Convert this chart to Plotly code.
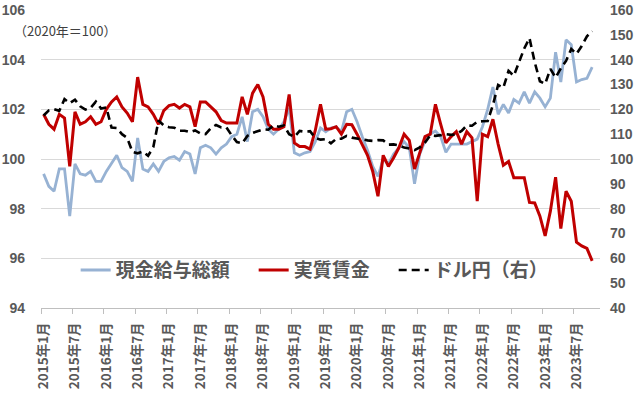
import plotly.graph_objects as go

# ---- data ----
years = list(range(2015, 2024))
months = [f"{y}年{m}月" for y in years for m in range(1, 13)][:106]

nominal_wage = [
    99.4, 98.9, 98.7, 99.6, 99.6, 97.7, 99.8, 99.4, 99.35, 99.5, 99.1, 99.1,
    99.5, 99.8, 100.15, 99.65, 99.5, 99.1, 100.85, 99.6, 99.5, 99.8, 99.5, 99.9,
    100.05, 100.1, 99.95, 100.3, 100.2, 99.4, 100.45, 100.55, 100.45, 100.2, 100.45, 100.6,
    100.9, 101.0, 101.7, 100.7, 101.9, 102.0, 101.7, 101.2, 101.0, 101.2, 101.5, 102.05,
    100.25, 100.15, 100.25, 100.3, 100.7, 101.25, 101.1, 101.25, 101.3, 101.1, 101.9, 102.0,
    101.5, 100.9, 100.35, 99.7, 99.3, 100.0, 99.8, 100.2, 100.45, 100.7, 100.45, 99.0,
    100.2, 100.73, 101.0, 101.13, 100.9, 100.27, 100.6, 100.6, 100.6, 100.6, 100.7, 100.8,
    101.3, 102.0, 102.9, 101.8, 102.2, 101.85, 102.4, 102.25, 102.7, 102.25, 102.7, 102.45,
    102.1, 102.45, 104.3, 103.1, 104.8, 104.6, 103.1, 103.2, 103.25, 103.7,
]

real_wage = [
    101.8, 101.4, 101.2, 101.8, 101.65, 99.7, 101.9, 101.4, 101.5, 101.7, 101.4, 101.5,
    102.0, 102.3, 102.5, 102.1, 101.85, 101.5, 103.3, 102.2, 102.1, 101.8, 101.4, 101.95,
    102.15, 102.2, 102.05, 102.2, 102.1, 101.3, 102.3, 102.3, 102.1, 101.9, 101.55, 101.45,
    101.45, 101.45, 102.5, 101.8, 102.65, 103.0, 102.5, 101.4, 101.2, 101.2, 101.3, 102.6,
    100.65, 100.5, 100.5, 100.4, 101.15, 102.2, 101.2, 101.22, 101.3, 101.0, 101.4, 101.38,
    101.0, 100.6, 100.15, 99.5, 98.5, 100.15, 99.7, 100.05, 100.45, 101.0, 100.75, 99.6,
    100.3, 100.9, 101.0, 102.2, 101.4, 100.65, 100.9, 101.1, 100.6, 101.1, 100.85, 98.3,
    101.0, 100.9, 101.6, 100.6, 99.75, 99.9, 99.25, 99.25, 99.25, 98.25, 98.23, 97.7,
    96.9, 97.9, 99.27, 97.2, 98.7, 98.3, 96.65, 96.5, 96.4, 95.9,
]

usd_jpy = [
    117.5, 119.6, 120.1, 119.4, 124.1, 122.5, 123.9, 121.2, 119.9, 120.6, 123.1, 120.3,
    120.8, 112.7, 112.5, 110.0, 108.5, 102.9, 102.3, 103.0, 101.3, 104.8, 115.5, 113.5,
    112.8, 112.6, 111.4, 111.4, 110.8, 111.5, 110.3, 110.0, 112.4, 113.7, 112.7, 112.7,
    109.5, 106.8, 106.3, 109.3, 110.5, 111.2, 111.9, 111.8, 113.5, 113.0, 113.5, 110.0,
    108.9, 111.3, 111.0, 111.2, 108.5, 107.8, 108.0, 106.3, 108.1, 108.2, 109.3, 108.6,
    108.4, 107.9, 107.5, 107.3, 107.6, 107.5, 105.8, 105.9, 105.5, 104.6, 104.2, 103.6,
    104.7, 106.6, 109.5, 109.3, 109.6, 110.0, 109.7, 110.0, 111.3, 113.5, 113.4, 115.0,
    115.2, 115.3, 121.7, 129.8, 128.7, 135.5, 133.5, 138.9, 144.5, 148.7, 139.0, 131.3,
    130.2, 136.3, 132.8, 136.5, 139.5, 144.3, 142.3, 145.5, 149.4, 151.5,
]

series_names = ["現金給与総額", "実質賃金", "ドル円（右）"]
unit_note = "（2020年＝100）"

# ---- styling ----
JP = "Noto Sans CJK JP"
NUM = "Liberation Sans"
GRAY = "#595959"
GRID = "#D9D9D9"

fig = go.Figure()
fig.add_trace(go.Scatter(
    x=months, y=nominal_wage, name=series_names[0] + "\u3000",
    mode="lines", line=dict(color="#97B2D3", width=2.8),
))
fig.add_trace(go.Scatter(
    x=months, y=real_wage, name=series_names[1] + "\u3000",
    mode="lines", line=dict(color="#C00000", width=3),
))
fig.add_trace(go.Scatter(
    x=months, y=usd_jpy, name=series_names[2], yaxis="y2",
    mode="lines", line=dict(color="#000000", width=2.6, dash="8px,5px"),
))

fig.update_layout(
    width=640, height=395,
    margin=dict(l=41, r=40, t=10, b=87, autoexpand=False),
    paper_bgcolor="white", plot_bgcolor="white",
    font=dict(family=JP, color=GRAY),
    showlegend=True,
    legend=dict(
        orientation="h", x=0.062, xanchor="left", y=0.127, yanchor="middle",
        bgcolor="rgba(0,0,0,0)",
        font=dict(family=JP, size=19, color=GRAY, weight="bold"),
        itemwidth=30, tracegroupgap=0,
    ),
    xaxis=dict(
        type="category", categoryorder="array", categoryarray=months,
        range=[-0.5, 106.5],
        tickmode="linear", tick0=0, dtick=6,
        tickson="boundaries", ticks="outside", ticklen=5, tickcolor="#BFBFBF",
        showgrid=False, showline=True, linecolor="#BFBFBF", linewidth=1,
        tickangle=-90, ticklabelstandoff=8,
        tickfont=dict(family=JP, size=13.5, color=GRAY, weight="bold"),
        zeroline=False, automargin=False,
    ),
    yaxis=dict(
        range=[94, 106], dtick=2, tick0=94,
        showgrid=True, gridcolor=GRID, gridwidth=1,
        zeroline=False, showline=False, ticks="",
        ticklabelstandoff=15, automargin=False, ticklabeloverflow="allow",
        tickfont=dict(family=NUM, size=14, color=GRAY, weight="bold"),
    ),
    yaxis2=dict(
        range=[40, 160], dtick=10, tick0=40,
        overlaying="y", side="right",
        showgrid=False, zeroline=False, showline=False, ticks="",
        ticklabelstandoff=9, automargin=False, ticklabeloverflow="allow",
        tickfont=dict(family=NUM, size=14, color=GRAY, weight="bold"),
    ),
    annotations=[dict(
        text=unit_note, xref="paper", yref="paper",
        x=-0.052, y=0.93, xanchor="left", yanchor="middle",
        showarrow=False, font=dict(family=JP, size=13, color="#404040"),
    )],
)

fig.write_html(
    "out.html",
    config={"displayModeBar": False},
    post_script="document.body.style.margin='0';document.body.style.padding='0';",
)
